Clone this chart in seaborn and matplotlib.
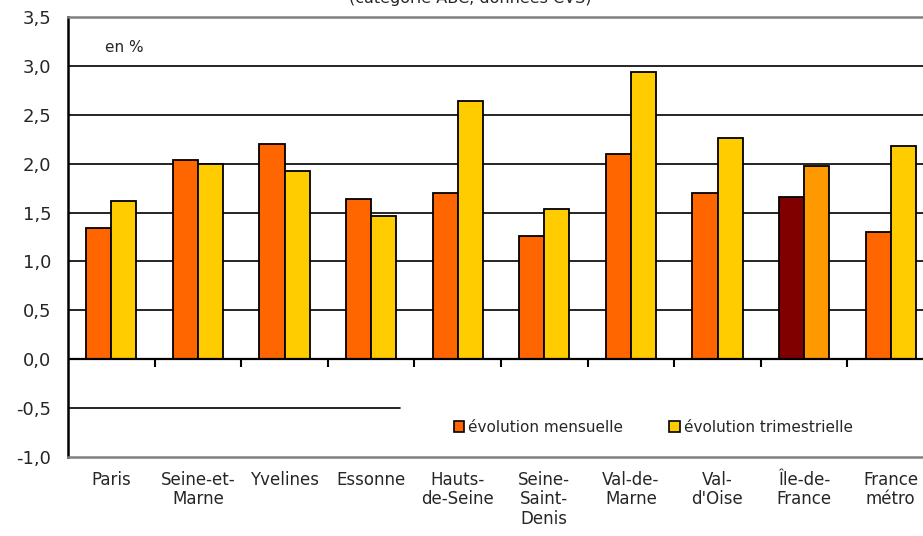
import numpy as np
import pandas as pd
import matplotlib
matplotlib.use("Agg")
import matplotlib.pyplot as plt
import matplotlib.patches as mpatches
import seaborn as sns

# data
zones = ["Paris", "Seine-et-Marne", "Yvelines", "Essonne", "Hauts-de-Seine",
         "Seine-Saint-Denis", "Val-de-Marne", "Val-d'Oise", "Île-de-France",
         "France métro"]
tick_labels = ["Paris", "Seine-et-\nMarne", "Yvelines", "Essonne", "Hauts-\nde-Seine",
               "Seine-\nSaint-\nDenis", "Val-de-\nMarne", "Val-\nd'Oise", "Île-de-\nFrance",
               "France\nmétro"]
mensuelle = [1.34, 2.04, 2.20, 1.64, 1.70, 1.26, 2.10, 1.70, 1.66, 1.30]
trimestrielle = [1.62, 2.00, 1.92, 1.46, 2.64, 1.54, 2.94, 2.26, 1.98, 2.18]
series = ["évolution mensuelle", "évolution trimestrielle"]
yticks = [-1.0, -0.5, 0.0, 0.5, 1.0, 1.5, 2.0, 2.5, 3.0, 3.5]

colors = {"évolution mensuelle": "#FF6600", "évolution trimestrielle": "#FFCC00"}
idf_colors = ["#800000", "#FF9900"]

df = pd.DataFrame({
    "zone": zones * 2,
    "valeur": mensuelle + trimestrielle,
    "serie": [series[0]] * len(zones) + [series[1]] * len(zones),
})

sns.set_style("white")
plt.rcParams["font.family"] = ["DejaVu Sans"]

fig = plt.figure(figsize=(9.23, 5.36), dpi=100)
ax = fig.add_axes([68 / 923, 79 / 536, 866 / 923, 440 / 536])

sns.barplot(data=df, x="zone", y="valeur", hue="serie", order=zones,
            hue_order=series, palette=colors, width=0.58, gap=0,
            edgecolor="black", linewidth=1.3, saturation=1, ax=ax, zorder=3)

# Île-de-France bars in darker colours
idx = zones.index("Île-de-France")
for cont, col in zip(ax.containers, idf_colors):
    cont.patches[idx].set_facecolor(col)

ax.set_xlim(-0.5, len(zones) - 0.5)
ax.set_ylim(-1.0, 3.5)
ax.set_yticks(yticks)
ax.set_yticklabels([f"{v:.1f}".replace(".", ",") for v in yticks], fontsize=13)
ax.set_xticks(range(len(zones)))
ax.set_xticklabels(tick_labels, fontsize=12, linespacing=1.1)
ax.tick_params(axis="x", length=0, pad=10)
ax.tick_params(axis="y", length=6, width=1.5, direction="out", color="black", pad=6)
ax.set_xlabel("")
ax.set_ylabel("")

# gridlines
ax.hlines([0.5, 1.0, 1.5, 2.0, 2.5, 3.0], -0.5, len(zones) - 0.5,
          color="black", lw=1.2, zorder=1)
ax.axhline(-0.5, xmin=0, xmax=(400 - 68) / 866, color="black", lw=1.2, zorder=1)
ax.axhline(0.0, color="black", lw=1.6, zorder=4)

# category ticks on the zero line
sec = ax.secondary_xaxis(1.0 / 4.5)
sec.set_xticks(np.arange(1, len(zones)) - 0.5)
sec.set_xticklabels([])
sec.tick_params(length=6, width=1.5, direction="out", color="black")
sec.spines["bottom"].set_visible(False)

for s in ["top", "bottom"]:
    ax.spines[s].set_color("#808080")
    ax.spines[s].set_linewidth(1.8)
ax.spines["left"].set_color("black")
ax.spines["left"].set_linewidth(1.8)
ax.spines["right"].set_visible(False)

ax.text((105 - 68) / 866, (457 - 47) / 440, "en %", transform=ax.transAxes,
        fontsize=11, va="center", ha="left")

# legend
handles = [mpatches.Patch(facecolor=colors[s], edgecolor="black", lw=1.2) for s in series]
ax.get_legend().remove()
ax.legend(handles, series, loc="center left", ncol=2, frameon=False,
          bbox_to_anchor=((446 - 68) / 866, (457 - 427) / 440), borderpad=0,
          handlelength=0.7, handleheight=0.7, handletextpad=0.25,
          columnspacing=3.0, fontsize=11)

fig.text(470 / 923, 1 - 3 / 536, "(catégorie ABC, données CVS)", ha="center",
         va="baseline", fontsize=11.5)

fig.savefig("out.png", dpi=100)
